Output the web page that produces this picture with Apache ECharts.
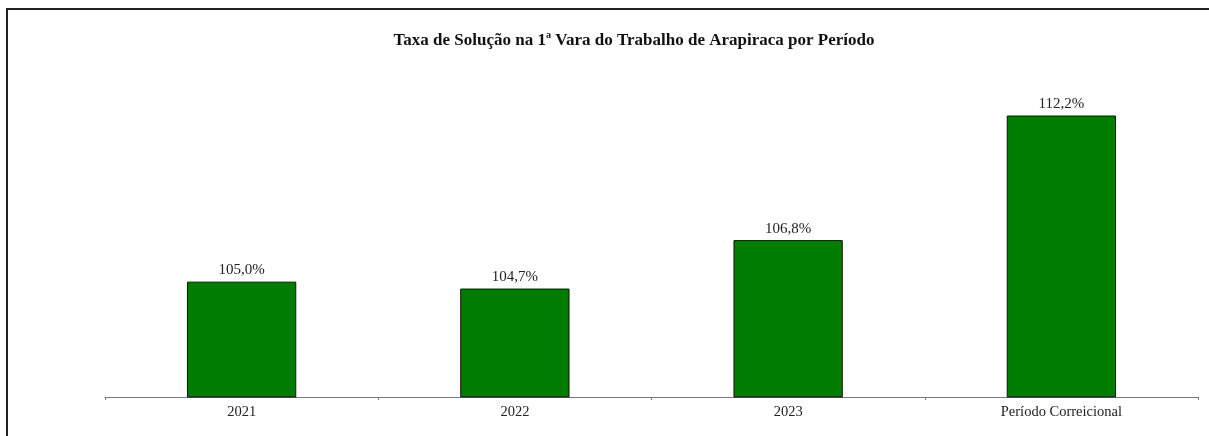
<!DOCTYPE html>
<html>
<head>
<meta charset="utf-8">
<script src="https://cdn.jsdelivr.net/npm/echarts@6/dist/echarts.min.js"></script>
<style>
html, body { margin: 0; padding: 0; background: #fff; }
#chart { width: 1209px; height: 436px; }
</style>
</head>
<body>
<div id="chart"></div>
<script>
var categorias = ['2021', '2022', '2023', 'Período Correicional'];
var taxas = [105.0, 104.7, 106.8, 112.2];
var titulo = 'Taxa de Solução na 1ª Vara do Trabalho de Arapiraca por Período';

var myChart = echarts.init(document.getElementById('chart'));

var option = {
    backgroundColor: '#fff',
    animation: false,
    title: {
        text: titulo,
        left: 629,
        textAlign: 'center',
        top: 27,
        textStyle: {
            fontFamily: 'Liberation Serif',
            fontWeight: 'bold',
            fontSize: 17,
            color: '#111'
        }
    },
    graphic: [{
        type: 'rect',
        shape: { x: 7, y: 9, width: 1300, height: 600 },
        style: { fill: 'none', stroke: '#222', lineWidth: 2 },
        silent: true
    }],
    grid: {
        left: 105,
        right: 11,
        top: 74,
        bottom: 39
    },
    xAxis: {
        type: 'category',
        data: categorias,
        axisLine: { lineStyle: { color: '#777', width: 1 } },
        axisTick: { show: true, length: 3, alignWithLabel: false, lineStyle: { color: '#777' } },
        axisLabel: {
            fontFamily: 'Liberation Serif',
            fontSize: 14.5,
            color: '#222',
            margin: 8
        }
    },
    yAxis: {
        type: 'value',
        min: 100,
        max: 114,
        show: false,
        splitLine: { show: false }
    },
    series: [{
        type: 'bar',
        data: taxas,
        barWidth: '40%',
        itemStyle: {
            color: '#007c00',
            borderColor: '#111',
            borderWidth: 1
        },
        label: {
            show: true,
            position: 'top',
            distance: 4,
            fontFamily: 'Liberation Serif',
            fontSize: 15,
            color: '#222',
            formatter: function (p) {
                return p.value.toFixed(1).replace('.', ',') + '%';
            }
        }
    }]
};

myChart.setOption(option);
</script>
</body>
</html>
